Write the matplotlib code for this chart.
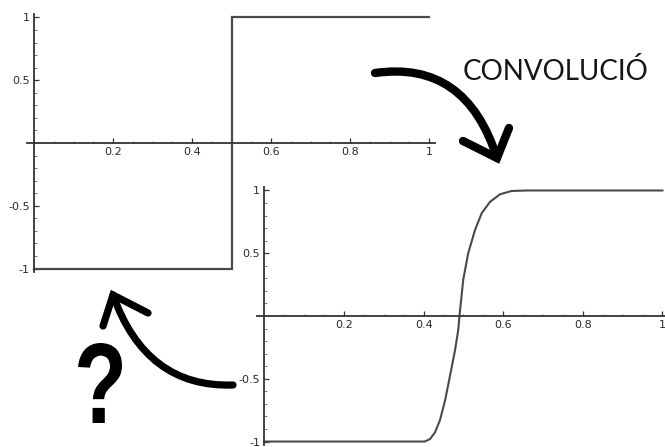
import matplotlib
matplotlib.use("Agg")
import matplotlib.pyplot as plt
from matplotlib.path import Path
from matplotlib.patches import PathPatch
from matplotlib.textpath import TextPath
from matplotlib.font_manager import FontProperties
from matplotlib.transforms import Affine2D
from matplotlib.ticker import FixedLocator, FixedFormatter, MultipleLocator

plt.rcParams['axes.unicode_minus'] = False

# ---- data ----
step_x = [0, 0.5, 0.5, 1.0]
step_y = [-1, -1, 1, 1]

conv_x = [0, 0.403, 0.416, 0.428, 0.441, 0.454, 0.466, 0.479, 0.487, 0.490,
          0.4995, 0.512, 0.529, 0.546, 0.567, 0.592, 0.621, 0.662, 1.0]
conv_y = [-1, -1, -0.98, -0.93, -0.83, -0.67, -0.48, -0.27, -0.11, 0.0,
          0.29, 0.50, 0.685, 0.82, 0.91, 0.97, 0.996, 1.0, 1.0]

x_ticks = [0.2, 0.4, 0.6, 0.8, 1.0]
x_labels = ["0.2", "0.4", "0.6", "0.8", "1"]
y_ticks = [-1, -0.5, 0.5, 1]
y_labels = ["-1", "-0.5", "0.5", "1"]

title_text = "CONVOLUCIÓ"
question_text = "?"

W, H = 665, 447
fig = plt.figure(figsize=(W / 100, H / 100), dpi=100)
fig.patch.set_facecolor("white")

AX_COL = "#333333"
LINE_COL = "#4a4a4a"


def sage_axes(rect, xlim, ylim):
    ax = fig.add_axes(rect)
    ax.set_facecolor("none")
    ax.set_xlim(*xlim)
    ax.set_ylim(*ylim)
    for s in ("top", "right"):
        ax.spines[s].set_visible(False)
    ax.spines["left"].set_position(("data", 0))
    ax.spines["bottom"].set_position(("data", 0))
    for s in ("left", "bottom"):
        ax.spines[s].set_color(AX_COL)
        ax.spines[s].set_linewidth(1.3)
    ax.xaxis.set_major_locator(FixedLocator(x_ticks))
    ax.xaxis.set_major_formatter(FixedFormatter(x_labels))
    ax.yaxis.set_major_locator(FixedLocator(y_ticks))
    ax.yaxis.set_major_formatter(FixedFormatter(y_labels))
    ax.xaxis.set_minor_locator(MultipleLocator(0.05))
    ax.yaxis.set_minor_locator(MultipleLocator(0.1))
    ax.tick_params(which="major", direction="in", length=3.5, width=0.9,
                   color=AX_COL, labelsize=8, labelcolor="#2a2a2a", pad=3)
    ax.tick_params(which="minor", direction="in", length=1.8, width=0.7,
                   color="#777777")
    return ax


# top plot (step function)
ax1 = sage_axes([0.0405, 0.3908, 0.6137, 0.5785], (-0.018, 1.015), (-1.03, 1.03))
ax1.plot(step_x, step_y, color=LINE_COL, lw=1.6, solid_joinstyle="miter")

# bottom plot (convolution)
ax2 = sage_axes([0.3869, 0.0038, 0.6272, 0.5785], (-0.018, 1.03), (-1.03, 1.03))
ax2.plot(conv_x, conv_y, color=LINE_COL, lw=1.5)

# overlay for hand-drawn annotations (pixel coordinates)
ov = fig.add_axes([0, 0, 1, 1])
ov.set_xlim(0, W)
ov.set_ylim(H, 0)
ov.axis("off")
ov.set_facecolor("none")


def curve(p0, p1, p2, lw):
    path = Path([p0, p1, p2], [Path.MOVETO, Path.CURVE3, Path.CURVE3])
    ov.add_patch(PathPatch(path, fill=False, lw=lw, color="black",
                           capstyle="round"))


def head(a, tip, b, lw):
    ov.plot([a[0], tip[0], b[0]], [a[1], tip[1], b[1]], color="black", lw=lw,
            solid_capstyle="round", solid_joinstyle="miter")


curve((375, 73), (466, 60), (497, 158), 6.0)
head((463, 141), (497, 158), (509, 128), 6.0)

curve((233, 385), (146, 388), (113, 295), 5.2)
head((103, 326), (113, 295), (148, 313), 5.2)

fig.text(463 / W, 1 - 80 / H, title_text, fontsize=20, family="Lato",
         fontweight="normal", color="#151515", ha="left", va="baseline")

# question mark: real glyph outline, fitted into its box (narrower than the font)
qp = TextPath((0, 0), question_text, size=100,
              prop=FontProperties(family="Liberation Sans", weight="bold"))
ext = qp.get_extents()
box_x0, box_x1, box_y0, box_y1 = 78, 122, 343, 423
sx = (box_x1 - box_x0) / ext.width
sy = (box_y1 - box_y0) / ext.height
tr = (Affine2D().translate(-ext.x0, -ext.y0).scale(sx, -sy)
      .translate(box_x0, box_y1))
ov.add_patch(PathPatch(tr.transform_path(qp), color="black", lw=0))

fig.savefig("out.png", dpi=100, facecolor="white")
